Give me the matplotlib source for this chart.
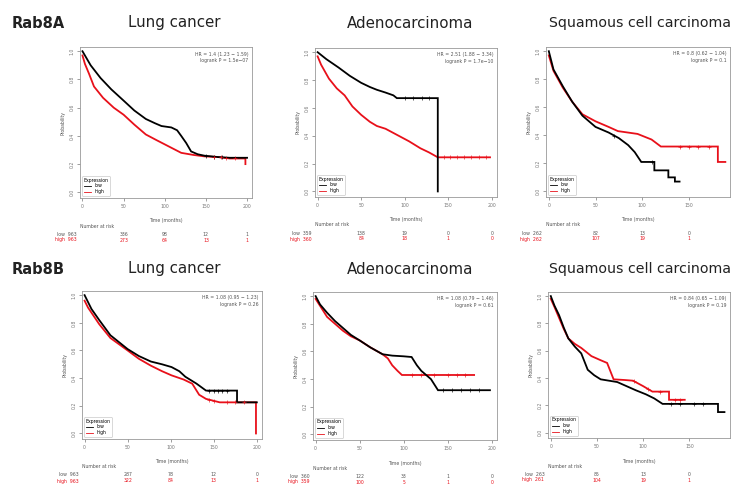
import matplotlib
matplotlib.use("Agg")
import matplotlib.pyplot as plt
import numpy as np
from matplotlib.transforms import blended_transform_factory
from matplotlib.lines import Line2D

# ---------------- data ----------------
row_labels = ["Rab8A", "Rab8B"]
panel_titles = ["Lung cancer", "Adenocarcinoma", "Squamous cell carcinoma"]

# Rab8A - Lung cancer
a_lung_low_t = [0, 5, 10, 22, 35, 50, 63, 77, 88, 96, 108, 115, 120, 126, 132, 140, 148, 165, 179, 200]
a_lung_low_s = [1.0, 0.95, 0.9, 0.81, 0.73, 0.65, 0.58, 0.52, 0.49, 0.47, 0.46, 0.44, 0.40, 0.35, 0.29, 0.27, 0.26, 0.25, 0.245, 0.245]
a_lung_high_t = [0, 3, 8, 14, 25, 38, 50, 63, 77, 90, 100, 110, 120, 135, 148, 165, 179, 198, 198]
a_lung_high_s = [0.97, 0.91, 0.84, 0.75, 0.67, 0.60, 0.55, 0.48, 0.41, 0.37, 0.34, 0.31, 0.28, 0.265, 0.255, 0.25, 0.24, 0.24, 0.20]

# Rab8A - Adenocarcinoma
a_ade_low_t = [0, 10, 24, 37, 50, 60, 68, 78, 87, 91, 110, 130, 138, 138]
a_ade_low_s = [1.0, 0.95, 0.89, 0.83, 0.78, 0.75, 0.73, 0.71, 0.69, 0.67, 0.67, 0.67, 0.67, 0.0]
a_ade_high_t = [0, 4, 13, 22, 31, 40, 50, 60, 68, 78, 87, 96, 105, 118, 128, 138, 170, 198]
a_ade_high_s = [0.97, 0.91, 0.81, 0.74, 0.69, 0.61, 0.55, 0.50, 0.47, 0.45, 0.42, 0.39, 0.36, 0.31, 0.28, 0.245, 0.245, 0.245]

# Rab8A - Squamous cell carcinoma
a_sq_low_t = [0, 5, 15, 25, 36, 50, 64, 75, 85, 92, 99, 113, 113, 128, 128, 135, 135, 140]
a_sq_low_s = [1.0, 0.87, 0.75, 0.64, 0.54, 0.46, 0.42, 0.38, 0.33, 0.28, 0.21, 0.21, 0.15, 0.15, 0.10, 0.10, 0.07, 0.07]
a_sq_high_t = [0, 5, 15, 25, 36, 50, 64, 74, 95, 110, 120, 134, 160, 181, 181, 189]
a_sq_high_s = [0.97, 0.86, 0.74, 0.64, 0.55, 0.50, 0.46, 0.43, 0.41, 0.37, 0.32, 0.32, 0.32, 0.32, 0.21, 0.21]

# Rab8B - Lung cancer
b_lung_low_t = [0, 8, 17, 30, 50, 63, 77, 90, 101, 110, 117, 130, 141, 157, 177, 177, 200]
b_lung_low_s = [1.0, 0.90, 0.82, 0.71, 0.61, 0.56, 0.52, 0.50, 0.48, 0.45, 0.41, 0.36, 0.31, 0.31, 0.31, 0.225, 0.225]
b_lung_high_t = [0, 4, 17, 30, 50, 63, 77, 90, 101, 115, 125, 133, 141, 157, 181, 199, 199]
b_lung_high_s = [0.96, 0.91, 0.79, 0.69, 0.60, 0.54, 0.49, 0.45, 0.42, 0.39, 0.36, 0.28, 0.25, 0.225, 0.225, 0.225, 0.0]

# Rab8B - Adenocarcinoma
b_ade_low_t = [0, 5, 13, 22, 31, 40, 50, 62, 76, 87, 100, 109, 115, 120, 131, 139, 170, 198]
b_ade_low_s = [1.0, 0.94, 0.88, 0.82, 0.77, 0.72, 0.68, 0.63, 0.58, 0.57, 0.565, 0.56, 0.50, 0.46, 0.40, 0.32, 0.32, 0.32]
b_ade_high_t = [0, 5, 13, 22, 31, 40, 50, 62, 76, 82, 87, 93, 98, 130, 180]
b_ade_high_s = [0.98, 0.93, 0.85, 0.80, 0.75, 0.71, 0.68, 0.63, 0.58, 0.55, 0.50, 0.46, 0.43, 0.43, 0.43]

# Rab8B - Squamous cell carcinoma
b_sq_low_t = [0, 4, 9, 14, 19, 26, 33, 40, 47, 54, 72, 82, 92, 103, 112, 121, 150, 181, 181, 188]
b_sq_low_s = [1.0, 0.93, 0.86, 0.77, 0.69, 0.63, 0.58, 0.46, 0.42, 0.39, 0.37, 0.34, 0.31, 0.28, 0.25, 0.21, 0.21, 0.21, 0.15, 0.15]
b_sq_high_t = [0, 4, 9, 14, 19, 26, 33, 44, 54, 61, 68, 80, 89, 100, 110, 128, 128, 145]
b_sq_high_s = [0.98, 0.92, 0.84, 0.76, 0.69, 0.65, 0.62, 0.56, 0.53, 0.51, 0.39, 0.385, 0.38, 0.34, 0.30, 0.30, 0.24, 0.24]

# censoring marks (times) on the plateaus
censor_low = [
    [[150, 160, 170], [100, 110, 120, 128], [70, 110]],
    [[145, 150, 155, 160, 165], [145, 155, 165, 175, 185], [130, 140, 155, 165]],
]
censor_high = [
    [[160, 168, 175, 185], [145, 152, 160, 168, 176, 185, 193], [140, 150, 160, 172]],
    [[145, 150, 165, 175, 185], [110, 120, 135, 150, 160, 170], [90, 105, 118, 135, 140]],
]

hr_texts = [
    ["HR = 1.4 (1.23 \u2212 1.59)\nlogrank P = 1.5e\u221207",
     "HR = 2.51 (1.88 \u2212 3.34)\nlogrank P = 1.7e\u221210",
     "HR = 0.8 (0.62 \u2212 1.04)\nlogrank P = 0.1"],
    ["HR = 1.08 (0.95 \u2212 1.23)\nlogrank P = 0.26",
     "HR = 1.08 (0.79 \u2212 1.46)\nlogrank P = 0.61",
     "HR = 0.84 (0.65 \u2212 1.09)\nlogrank P = 0.19"],
]

risk_times_long = [0, 50, 100, 150, 200]
risk_times_short = [0, 50, 100, 150]
risk_low = [
    [[963, 336, 98, 12, 1], [359, 138, 19, 0, 0], [262, 82, 13, 0]],
    [[963, 287, 78, 12, 0], [360, 122, 33, 1, 0], [263, 85, 13, 0]],
]
risk_high = [
    [[963, 273, 64, 13, 1], [360, 84, 18, 1, 0], [262, 107, 19, 1]],
    [[963, 322, 84, 13, 1], [359, 100, 5, 1, 0], [261, 104, 19, 1]],
]

curves = [
    [(a_lung_low_t, a_lung_low_s, a_lung_high_t, a_lung_high_s),
     (a_ade_low_t, a_ade_low_s, a_ade_high_t, a_ade_high_s),
     (a_sq_low_t, a_sq_low_s, a_sq_high_t, a_sq_high_s)],
    [(b_lung_low_t, b_lung_low_s, b_lung_high_t, b_lung_high_s),
     (b_ade_low_t, b_ade_low_s, b_ade_high_t, b_ade_high_s),
     (b_sq_low_t, b_sq_low_s, b_sq_high_t, b_sq_high_s)],
]

# ---------------- layout ----------------
W, H = 738, 488
fig = plt.figure(figsize=(W / 100, H / 100), dpi=100)
fig.patch.set_facecolor("white")

# (left, right, top, bottom) in pixels
boxes = [
    [(80, 252, 47, 198), (315, 497, 48, 197), (546, 730, 47, 197)],
    [(82, 262, 291, 439), (313, 497, 292, 440), (548, 730, 292, 438)],
]
xlims = [[(-3, 206), (-3, 206), (-3, 194)], [(-3, 206), (-3, 206), (-3, 194)]]
xticks_all = [[risk_times_long, risk_times_long, risk_times_short],
              [risk_times_long, risk_times_long, risk_times_short]]

RED = "#e8101a"
GREY = "#555555"
tiny = 3.3


def surv_at(tt, ss, x):
    # value of the drawn curve at time x (last point at or before x)
    tt = np.asarray(tt, float)
    ss = np.asarray(ss, float)
    idx = np.searchsorted(tt, x, side="right") - 1
    return float(np.interp(x, tt[:idx + 2] if idx + 2 <= len(tt) else tt,
                           ss[:idx + 2] if idx + 2 <= len(ss) else ss))


for r in range(2):
    for c in range(3):
        l, rr, t, b = boxes[r][c]
        ax = fig.add_axes([l / W, 1 - b / H, (rr - l) / W, (b - t) / H])
        lt, ls, ht, hs = curves[r][c]
        ax.plot(ht, hs, color=RED, lw=1.3, solid_joinstyle="miter")
        ax.plot(lt, ls, color="black", lw=1.3, solid_joinstyle="miter")
        cl = censor_low[r][c]
        ch = censor_high[r][c]
        ax.plot(cl, [surv_at(lt, ls, x) for x in cl], ls="none", marker="+",
                ms=2.2, mew=0.45, color="black")
        ax.plot(ch, [surv_at(ht, hs, x) for x in ch], ls="none", marker="+",
                ms=2.2, mew=0.45, color=RED)
        ax.set_xlim(*xlims[r][c])
        ax.set_ylim(-0.04, 1.03)
        ax.set_xticks(xticks_all[r][c])
        ax.set_xticklabels([str(v) for v in xticks_all[r][c]], fontsize=tiny, color=GREY)
        ax.set_yticks([0, 0.2, 0.4, 0.6, 0.8, 1.0])
        ax.set_yticklabels(["0.0", "0.2", "0.4", "0.6", "0.8", "1.0"], fontsize=tiny,
                           rotation=90, va="center", color=GREY)
        ax.tick_params(length=2, width=0.5, colors="#777777", pad=2)
        for sp in ax.spines.values():
            sp.set_linewidth(0.6)
            sp.set_color("#999999")
        ax.set_ylabel("Probability", fontsize=tiny, color=GREY, labelpad=3)
        ax.text(0.98, 0.97, hr_texts[r][c], transform=ax.transAxes, ha="right", va="top",
                fontsize=tiny, color=GREY, linespacing=1.4)
        handles = [Line2D([], [], color="black", lw=0.6), Line2D([], [], color=RED, lw=0.6)]
        leg = ax.legend(handles, ["low", "high"], title="Expression", loc="lower left",
                        fontsize=tiny, title_fontsize=tiny, frameon=True, handlelength=1.5,
                        borderpad=0.3, labelspacing=0.2, bbox_to_anchor=(0.0, 0.0))
        leg.get_frame().set_linewidth(0.4)
        leg.get_frame().set_edgecolor("#aaaaaa")
        leg._legend_box.align = "left"

        # x label and number at risk
        tr = blended_transform_factory(ax.transData, fig.transFigure)
        tra = blended_transform_factory(ax.transAxes, fig.transFigure)
        ax.text(0.5, 1 - (b + 23) / H, "Time (months)", transform=tra,
                ha="center", va="center", fontsize=tiny, color=GREY)
        ax.text(0.0, 1 - (b + 28) / H, "Number at risk", transform=tra,
                ha="left", va="center", fontsize=tiny, color=GREY)
        times = xticks_all[r][c]
        yl = 1 - (b + 36) / H
        yh = 1 - (b + 42) / H
        ax.text(-0.02, yl, "low  " + str(risk_low[r][c][0]), transform=tra,
                ha="right", va="center", fontsize=tiny, color=GREY)
        ax.text(-0.02, yh, "high  " + str(risk_high[r][c][0]), transform=tra,
                ha="right", va="center", fontsize=tiny, color=RED)
        for i, tv in enumerate(times[1:], start=1):
            ax.text(tv, yl, str(risk_low[r][c][i]), transform=tr, ha="center", va="center",
                    fontsize=tiny, color=GREY)
            ax.text(tv, yh, str(risk_high[r][c][i]), transform=tr, ha="center", va="center",
                    fontsize=tiny, color=RED)

# titles
title_y = [23, 269]
title_x = [174, 410, 640]
title_fs = [10.8, 10.8, 10.2]
for r in range(2):
    fig.text(12 / W, 1 - title_y[r] / H, row_labels[r], fontsize=10.5, fontweight="bold",
             ha="left", va="center", color="#222222")
    for c in range(3):
        fig.text(title_x[c] / W, 1 - title_y[r] / H, panel_titles[c], fontsize=title_fs[c],
                 ha="center", va="center", color="#222222")

fig.savefig("out.png", dpi=100, facecolor="white")
